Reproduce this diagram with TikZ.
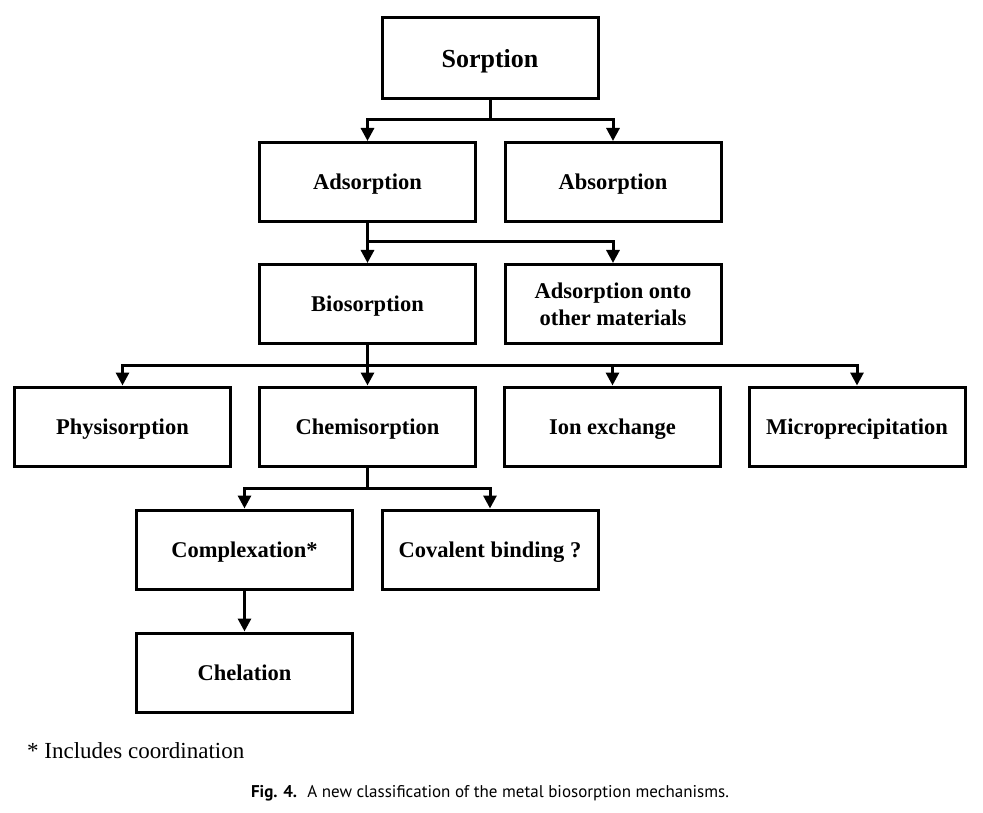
\documentclass[tikz,border=0pt]{standalone}
\usepackage{fontspec}
\setmainfont{Liberation Serif}
\newfontfamily\capfont{PT Sans}
\usetikzlibrary{arrows.meta,calc}
\tikzset{
  box/.style={draw=black, line width=3pt, minimum width=216pt, minimum height=79pt,
    inner sep=0pt, align=center, text depth=0pt, font=\fontsize{22.5}{27}\selectfont\bfseries},
  arr/.style={line width=3pt, -{Triangle[length=13pt,width=13pt]}},
  ln/.style={line width=3pt}
}
\begin{document}
\begin{tikzpicture}[x=1pt,y=-1pt]
\fill[white] (0,0) rectangle (983,813);
\useasboundingbox (0,0) rectangle (983,813);
\node[box, minimum height=81pt, font=\fontsize{26}{30}\selectfont\bfseries] (sorp) at (490,58.5) {Sorption};
\node[box] (ads) at (367.5,182) {Adsorption};
\node[box] (abs) at (613,182) {Absorption};
\node[box] (bio) at (367.5,304) {Biosorption};
\node[box] (oth) at (613,304) {Adsorption onto\\other materials};
\node[box] (phy) at (122.5,426.5) {Physisorption};
\node[box] (che) at (367.5,426.5) {Chemisorption};
\node[box] (ion) at (612.5,426.5) {Ion exchange};
\node[box] (mic) at (857,426.5) {Microprecipitation};
\node[box] (com) at (244.5,549.5) {Complexation*};
\node[box] (cov) at (490,549.5) {Covalent binding ?};
\node[box] (chl) at (244.5,672.5) {Chelation};

\coordinate (j1) at (490,120);
\coordinate (j2) at (367.5,242);
\coordinate (j3) at (367.5,365);
\coordinate (j4) at (367.5,488);

\draw[ln] (sorp.south) -- (j1);
\draw[arr] (j1) -| (ads.north);
\draw[arr] (j1) -| (abs.north);
\draw[ln] (ads.south) -- (j2);
\draw[arr] (j2) -- (bio.north);
\draw[arr] (j2) -| (oth.north);
\draw[ln] (bio.south) -- (j3);
\draw[arr] (j3) -| (phy.north);
\draw[arr] (j3) -- (che.north);
\draw[arr] (j3) -| (ion.north);
\draw[arr] (j3) -| (mic.north);
\draw[ln] (che.south) -- (j4);
\draw[arr] (j4) -| (com.north);
\draw[arr] (j4) -| (cov.north);
\draw[arr] (com.south) -- (chl.north);

\node[anchor=west, inner sep=0pt, font=\fontsize{23}{27}\selectfont] (note) at (27,751) {* Includes coordination};
\node[inner sep=0pt, font=\capfont\fontsize{17}{20}\selectfont] (cap) at (490,793) {\textbf{Fig. 4.}\hspace{0.6em}A new classification of the metal biosorption mechanisms.};
\end{tikzpicture}
\end{document}
